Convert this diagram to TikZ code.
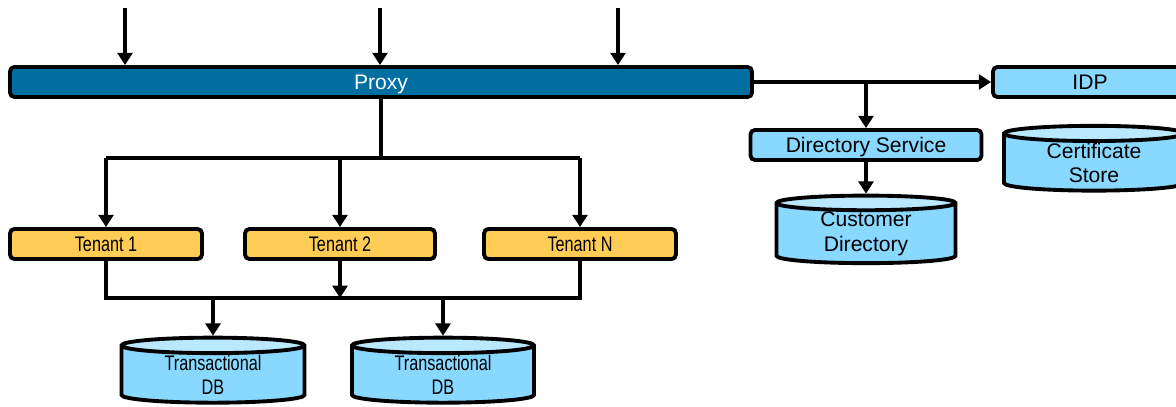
\documentclass[tikz,border=0pt]{standalone}
\usepackage{fontspec}
\setmainfont{Liberation Sans}
\usepackage{graphicx}
\usetikzlibrary{shapes, arrows.meta, positioning, calc}

\definecolor{proxyblue}{RGB}{0,110,160}
\definecolor{tenantyellow}{RGB}{255,204,85}
\definecolor{svcblue}{RGB}{136,216,255}
\definecolor{toplight}{RGB}{186,232,255}
\newcommand{\narrow}[1]{\scalebox{0.77}[1]{#1}}

\tikzset{
	box/.style={draw, line width=2.2pt, rounded corners=2.5pt, inner sep=0pt,
		minimum height=30*0.02cm, text height=8.5pt, text depth=0pt,
		font=\fontsize{12}{14}\selectfont},
	proxybox/.style={box, fill=proxyblue, text=white},
	tenantbox/.style={box, fill=tenantyellow},
	svcbox/.style={box, fill=svcblue},
	store/.style={draw, line width=2.2pt, cylinder, shape border rotate=90, aspect=0.16,
		cylinder uses custom fill, cylinder body fill=svcblue, cylinder end fill=toplight,
		inner sep=0pt, align=center, font=\fontsize{12}{14}\selectfont},
	arr/.style={line width=2.2pt, -{Triangle[length=7pt,width=8.5pt]}},
	wire/.style={line width=2.2pt}
}

\begin{document}
\begin{tikzpicture}[x=0.02cm, y=-0.02cm]
	\clip (0,0) rectangle (1176,406);
	% boxes
	\node[proxybox, minimum width=742*0.02cm] at (381,82) (proxy) {Proxy};
	\node[svcbox, minimum width=194*0.02cm] at (1090,82) (idp) {IDP};
	\node[svcbox, minimum width=231*0.02cm] at (866,145) (ds) {Directory Service};
	\node[store, minimum width=179*0.02cm, minimum height=62*0.02cm] at (866,234) (custdir) {Customer\\Directory};
	\node[store, minimum width=180*0.02cm, minimum height=64*0.02cm] at (1094,163) (certstore) {Certificate\\Store};

	\node[tenantbox, minimum width=192*0.02cm] at (106,244) (t1) {\narrow{Tenant 1}};
	\node[tenantbox, minimum width=190*0.02cm] at (340,244) (t2) {\narrow{Tenant 2}};
	\node[tenantbox, minimum width=192*0.02cm] at (580,244) (tN) {\narrow{Tenant N}};

	\node[store, minimum width=183*0.02cm, minimum height=62*0.02cm] at (213,375) (db1) {\narrow{Transactional}\\\narrow{DB}};
	\node[store, minimum width=182*0.02cm, minimum height=62*0.02cm] at (443,375) (db2) {\narrow{Transactional}\\\narrow{DB}};

	% bus points
	\coordinate (in1) at (125,8);
	\coordinate (in2) at (380,8);
	\coordinate (in3) at (618,8);
	\coordinate (dsbranch) at (866,82);
	\coordinate (tbus) at (381,158);
	\coordinate (dbus) at (340,298);

	% incoming requests
	\foreach \src in {in1, in2, in3}
		\draw[arr] (\src) -- (\src |- proxy.north);

	% identity side
	\draw[arr] (proxy.east) -- (idp.west);
	\draw[arr] (dsbranch) -- (ds.north);
	\draw[arr] (ds.south) -- (custdir.north);

	% proxy to tenants
	\draw[wire] (proxy.south) -- (tbus);
	\draw[wire] (t1 |- tbus) -- (tN |- tbus);
	\foreach \t in {t1, t2, tN}
		\draw[arr] (\t |- tbus) -- (\t.north);

	% tenants to databases
	\draw[wire] (t1.south) -- (t1 |- dbus) -- (tN |- dbus) -- (tN.south);
	\draw[arr] (t2.south) -- (t2 |- dbus);
	\foreach \db in {db1, db2}
		\draw[arr] (\db |- dbus) -- (\db.north);
\end{tikzpicture}
\end{document}
